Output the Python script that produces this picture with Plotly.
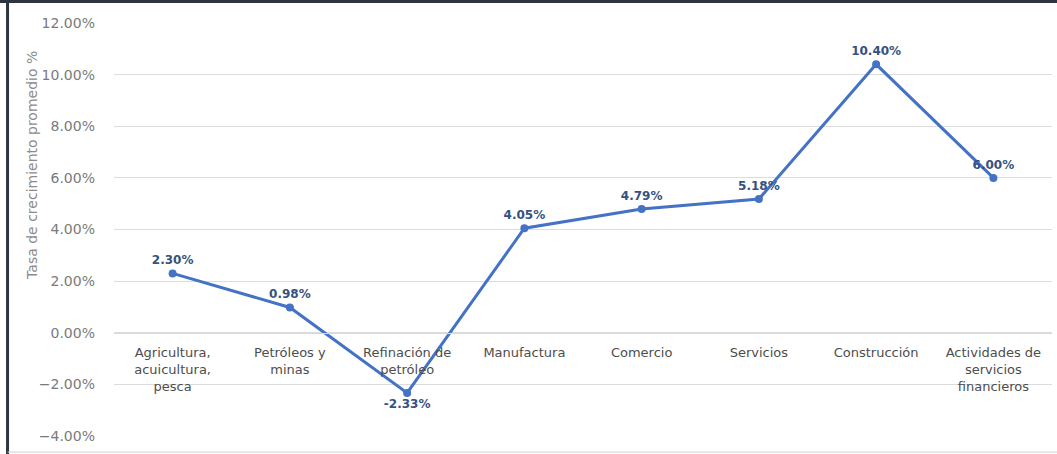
import plotly.graph_objects as go

sectores = [
    "Agricultura,<br>acuicultura,<br>pesca",
    "Petróleos y<br>minas",
    "Refinación de<br>petróleo",
    "Manufactura",
    "Comercio",
    "Servicios",
    "Construcción",
    "Actividades de<br>servicios<br>financieros",
]
tasa = [0.0230, 0.0098, -0.0233, 0.0405, 0.0479, 0.0518, 0.1040, 0.0600]
pos_etiqueta = ["top center"] * 8
pos_etiqueta[2] = "bottom center"

azul = "#4472C4"
fuente = "DejaVu Sans"

fig = go.Figure()

fig.add_trace(go.Scatter(
    x=sectores, y=tasa,
    mode="lines+markers+text",
    line=dict(color=azul, width=3),
    marker=dict(color=azul, size=8),
    text=[f"{v:.2%}" for v in tasa],
    textposition=pos_etiqueta,
    textfont=dict(family=fuente, size=12, color="#35527F", weight="bold"),
    cliponaxis=False,
    showlegend=False,
))

fig.update_layout(
    width=1057, height=454,
    margin=dict(l=114, r=5, t=23, b=18),
    paper_bgcolor="white", plot_bgcolor="white",
    font=dict(family=fuente),
    xaxis=dict(
        type="category", range=[-0.5, 7.5],
        anchor="free", position=0.25,
        showgrid=False, showline=True, linecolor="#d9d9d9", linewidth=1,
        ticks="", ticklabelstandoff=8,
        tickfont=dict(family=fuente, size=13, color="#4d4d4d"),
    ),
    yaxis=dict(
        range=[-0.04, 0.12], dtick=0.02, tickformat=".2%",
        showgrid=True, gridcolor="#dcdcdc", gridwidth=1,
        zeroline=False, showline=False, ticks="",
        ticklabelstandoff=18,
        tickfont=dict(family=fuente, size=14, color="#7a7a7a"),
    ),
    annotations=[dict(
        text="Tasa de crecimiento promedio %",
        xref="paper", yref="paper", x=-0.0874, y=0.654,
        xanchor="center", yanchor="middle",
        textangle=-90, showarrow=False,
        font=dict(family=fuente, size=14, color="#8c8c8c"),
    )],
    shapes=[
        dict(type="line", xref="paper", yref="paper",
             x0=-0.13, x1=1.01, y0=1.052, y1=1.052,
             line=dict(color="#2f3540", width=3)),
        dict(type="line", xref="paper", yref="paper",
             x0=-0.1135, x1=-0.1135, y0=-0.05, y1=1.06,
             line=dict(color="#2f3540", width=3)),
        dict(type="line", xref="paper", yref="paper",
             x0=-0.1135, x1=1.01, y0=-0.039, y1=-0.039,
             line=dict(color="#d0d0d0", width=1)),
    ],
)

fig.write_html("out.html", config={"displayModeBar": False},
               post_script="document.body.style.margin='0';")
